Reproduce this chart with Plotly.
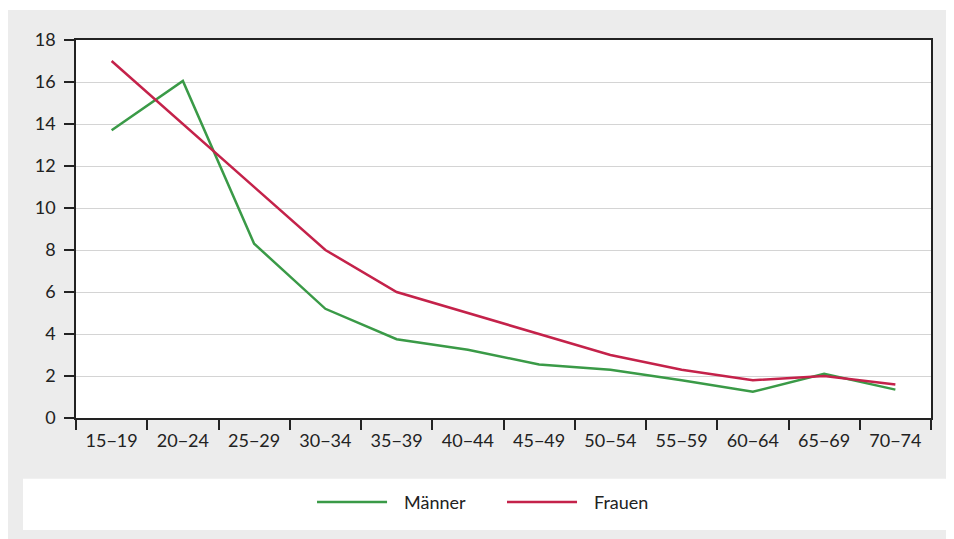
import plotly.graph_objects as go

age_groups = ["15−19", "20−24", "25−29", "30−34", "35−39", "40−44",
              "45−49", "50−54", "55−59", "60−64", "65−69", "70−74"]
maenner = [13.7, 16.05, 8.3, 5.2, 3.75, 3.25, 2.55, 2.3, 1.8, 1.25, 2.1, 1.35]
frauen = [17.0, 14.0, 11.0, 8.0, 6.0, 5.0, 4.0, 3.0, 2.3, 1.8, 2.0, 1.6]
series_names = ["Männer", "Frauen"]

GREEN = "#3a9a47"
RED = "#c4224a"
FONT = "Lato"

fig = go.Figure()
fig.add_trace(go.Scatter(x=age_groups, y=maenner, name=series_names[0], mode="lines",
                         line=dict(color=GREEN, width=2.5), showlegend=False))
fig.add_trace(go.Scatter(x=age_groups, y=frauen, name=series_names[1], mode="lines",
                         line=dict(color=RED, width=2.5), showlegend=False))

# thin white strip on top, white legend strip
fig.add_shape(type="rect", xref="paper", yref="paper", layer="below",
              x0=-0.1, x1=1.1, y0=1.0794, y1=1.2,
              fillcolor="white", line_width=0)
fig.add_shape(type="rect", xref="paper", yref="paper", layer="below",
              x0=-0.062, x1=1.0175, y0=-0.296, y1=-0.161,
              fillcolor="white", line_width=0)

# legend drawn by hand so the sample lines have the reference length
legend_items = [(series_names[0], GREEN, 0.2819), (series_names[1], RED, 0.5041)]
for label, color, x0 in legend_items:
    fig.add_shape(type="line", xref="paper", yref="paper",
                  x0=x0, x1=x0 + 0.0819, y0=-0.2222, y1=-0.2222,
                  line=dict(color=color, width=2.5))
    fig.add_annotation(text=label, xref="paper", yref="paper",
                       x=x0 + 0.0994, y=-0.2222, xanchor="left", yanchor="middle",
                       showarrow=False, font=dict(size=18, color="#222222"))

fig.update_layout(
    width=954, height=539,
    margin=dict(l=68, r=31, t=32, b=129),
    paper_bgcolor="#ececec",
    plot_bgcolor="white",
    font=dict(family=FONT, size=18, color="#222222"),
)
fig.update_xaxes(
    type="category", range=[-0.5, 11.5], tickson="boundaries",
    showline=True, linecolor="#222222", linewidth=1.5, mirror=True,
    ticks="outside", ticklen=10, tickcolor="#222222", tickwidth=1.5,
    showgrid=False, ticklabelstandoff=6,
)
fig.update_yaxes(
    range=[0, 18], dtick=2, tick0=0,
    showline=True, linecolor="#222222", linewidth=1.5, mirror=True,
    ticks="outside", ticklen=10, tickcolor="#222222", tickwidth=1.5,
    showgrid=True, gridcolor="#d4d4d4", gridwidth=1, zeroline=False,
    ticklabelstandoff=5,
)

fig.write_html("out.html")
